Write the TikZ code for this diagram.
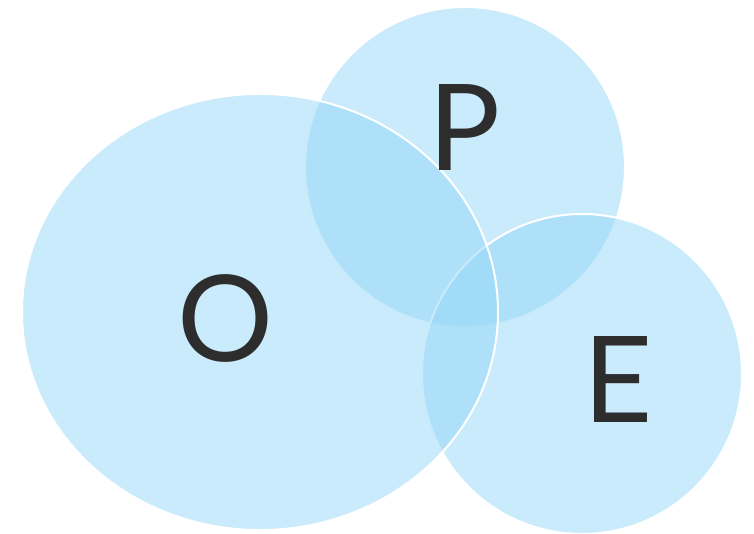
\documentclass[tikz,border=0pt]{standalone}
\usepackage{fontspec}
\setmainfont{Lato}
\definecolor{bubble}{RGB}{147,215,247}
\definecolor{ink}{RGB}{45,45,45}
\begin{document}
\begin{tikzpicture}[x=1pt,y=-1pt,
  bub/.style={fill=bubble,fill opacity=0.5,draw=white,draw opacity=1,line width=2pt},
  letter/.style={text=ink,font=\fontsize{120}{120}\selectfont,inner sep=0pt}]
\useasboundingbox (0,0) rectangle (754,534);
\draw[bub] (465,167) circle[radius=160];
\draw[bub] (582,374) circle[radius=160];
\draw[bub] (260,312) ellipse[x radius=238,y radius=218];
\node[letter] (o) at (226,318) {O};
\node[letter] (p) at (465,128) {P};
\node[letter] (e) at (618,380) {E};
\end{tikzpicture}
\end{document}
